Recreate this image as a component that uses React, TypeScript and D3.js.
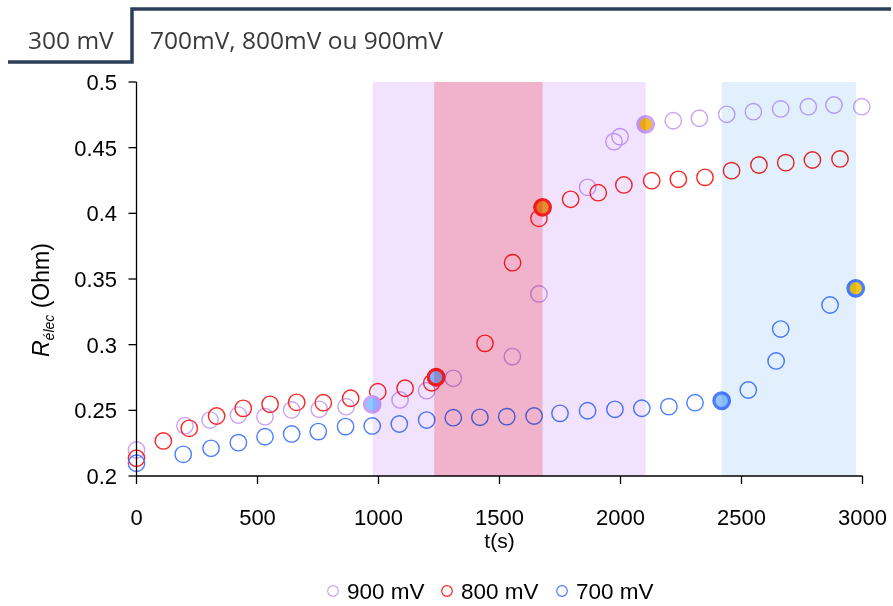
import React from "react";
import * as d3 from "d3";

const time900 = [0, 200, 304, 421, 531, 641, 755, 866, 974, 1089, 1199, 1309, 1553, 1663, 1864, 1973, 1998, 2104, 2218, 2326, 2439, 2549, 2662, 2776, 2882, 2997];
const r900 = [0.2198, 0.2383, 0.2426, 0.2464, 0.2452, 0.2503, 0.2508, 0.2528, 0.2546, 0.2579, 0.265, 0.2744, 0.2909, 0.3386, 0.4198, 0.4546, 0.4584, 0.4678, 0.4705, 0.4724, 0.4754, 0.4774, 0.4795, 0.4812, 0.4825, 0.4812];

const time800 = [0, 111, 218, 331, 441, 552, 662, 772, 885, 997, 1110, 1220, 1238, 1440, 1554, 1663, 1678, 1794, 1908, 2014, 2129, 2239, 2349, 2459, 2572, 2683, 2793, 2907];
const r800 = [0.2135, 0.2267, 0.2363, 0.2457, 0.2515, 0.2546, 0.2561, 0.2558, 0.2592, 0.2642, 0.2668, 0.271, 0.2752, 0.301, 0.3624, 0.3962, 0.4046, 0.4107, 0.4157, 0.4216, 0.4249, 0.4259, 0.4274, 0.4325, 0.4368, 0.4386, 0.4406, 0.4414];

const time700 = [0, 193, 308, 421, 531, 641, 751, 864, 974, 1086, 1199, 1309, 1419, 1530, 1643, 1750, 1864, 1977, 2088, 2200, 2308, 2418, 2528, 2643, 2662, 2866, 2972];
const r700 = [0.2097, 0.2165, 0.2211, 0.2254, 0.2299, 0.232, 0.2338, 0.2376, 0.2381, 0.2396, 0.2426, 0.2444, 0.2447, 0.2452, 0.2457, 0.2477, 0.2497, 0.2508, 0.2516, 0.2528, 0.2558, 0.2573, 0.2655, 0.2876, 0.3119, 0.3302, 0.3429];

const seriesNames = ["900 mV", "800 mV", "700 mV"];
const seriesColors = ["#c9a3f7", "#ff2424", "#4d7dff"];

// highlighted points: [series index, point index, fill]
const highlightSeries = [0, 1, 1, 0, 2, 2];
const highlightIndex = [8, 12, 16, 17, 21, 26];
const highlightFill = ["#93c6ff", "#93c6ff", "#f2a22e", "#f6bb1e", "#93c6ff", "#f5c518"];

// shaded bands (t start, t end)
const bandStart = [976, 1678, 1230, 2418];
const bandEnd = [1230, 2104, 1678, 2973];
const bandColor = ["#f1e3fd", "#f1e3fd", "#f0b3cb", "#e2f0fe"];

const xTicks = [0, 500, 1000, 1500, 2000, 2500, 3000];
const yTicks = [0.2, 0.25, 0.3, 0.35, 0.4, 0.45, 0.5];

export default function App() {
  const x = d3.scaleLinear().domain([0, 3000]).range([136.5, 862.5]);
  const y = d3.scaleLinear().domain([0.2, 0.5]).range([476, 82]);
  const times = [time900, time800, time700];
  const values = [r900, r800, r700];
  const font = "'Liberation Sans', Arial, sans-serif";
  const x0 = x(0);
  const y0 = y(0.2);

  return (
    <svg width={893} height={606} style={{ position: "absolute", left: 0, top: 0, background: "#fff" }}>
      <rect x={0} y={0} width={893} height={606} fill="#fff" />
      {/* top step */}
      <path d="M8,62 H132 V9 H891" fill="none" stroke="#2c3d57" strokeWidth={3.5} />
      <text x={28} y={49} fontFamily="'Open Sans', sans-serif" fontSize={24.5} fill="#3a3a3a">300 mV</text>
      <text x={150} y={49} fontFamily="'Open Sans', sans-serif" fontSize={24.5} fill="#3a3a3a">700mV, 800mV ou 900mV</text>

      {/* data circles */}
      {times.map((ts, s) =>
        ts.map((t, i) => (
          <circle key={`c${s}-${i}`} cx={x(t)} cy={y(values[s][i])} r={8.2} fill="none" stroke={seriesColors[s]} strokeWidth={1.4} />
        ))
      )}
      {highlightSeries.map((s, k) => (
        <circle key={`h${k}`} cx={x(times[s][highlightIndex[k]])} cy={y(values[s][highlightIndex[k]])} r={7.8}
          fill={highlightFill[k]} stroke={seriesColors[s]} strokeWidth={3.2} />
      ))}

      {/* bands, multiplied over marks */}
      {bandStart.map((b, k) => (
        <rect key={`b${k}`} x={x(b)} y={y(0.5)} width={x(bandEnd[k]) - x(b)} height={y0 - y(0.5)}
          fill={bandColor[k]} style={{ mixBlendMode: "multiply" }} />
      ))}

      {/* axes */}
      <line x1={x0} x2={x(3000)} y1={y0} y2={y0} stroke="#000" strokeWidth={1.3} />
      <line x1={x0} x2={x0} y1={y(0.5)} y2={y0} stroke="#000" strokeWidth={1.3} />
      {xTicks.map((t) => (
        <g key={`xt${t}`}>
          <line x1={x(t)} x2={x(t)} y1={y0} y2={y0 + 8} stroke="#000" strokeWidth={1.3} />
          <text x={x(t)} y={525} textAnchor="middle" fontFamily={font} fontSize={22} fill="#000">{t}</text>
        </g>
      ))}
      {yTicks.map((v) => (
        <g key={`yt${v}`}>
          <line x1={x0 - 8} x2={x0} y1={y(v)} y2={y(v)} stroke="#000" strokeWidth={1.3} />
          <text x={117} y={y(v)} dy="0.36em" textAnchor="end" fontFamily={font} fontSize={22} fill="#000">{String(v)}</text>
        </g>
      ))}
      <text x={x(1500)} y={548} textAnchor="middle" fontFamily={font} fontSize={21} fill="#000">t(s)</text>
      <text transform="translate(49,357) rotate(-90)" fontFamily={font} fontSize={23} fill="#000">
        <tspan fontStyle="italic">R</tspan>
        <tspan fontStyle="italic" fontSize={14} dy={5}>élec</tspan>
        <tspan dy={-5}> (Ohm)</tspan>
      </text>

      {/* legend */}
      {seriesNames.map((n, k) => {
        const lx = [333, 447, 562][k];
        return (
          <g key={`lg${k}`}>
            <circle cx={lx} cy={591} r={5.3} fill="none" stroke={seriesColors[k]} strokeWidth={1.2} />
            <text x={lx + 14} y={599} fontFamily={font} fontSize={22.5} fill="#000">{n}</text>
          </g>
        );
      })}
    </svg>
  );
}
